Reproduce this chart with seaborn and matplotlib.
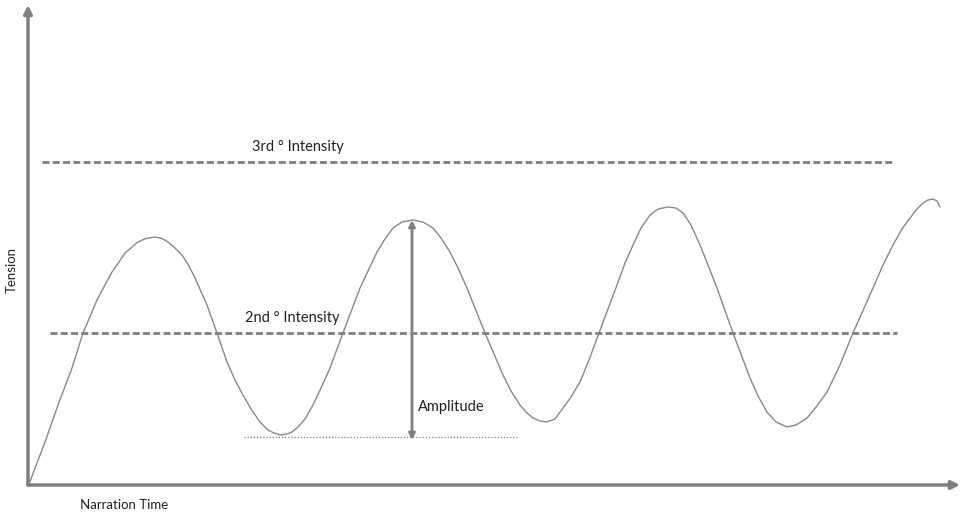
import matplotlib
matplotlib.use("Agg")
import matplotlib.pyplot as plt
import pandas as pd
import seaborn as sns

# narration time vs tension (arbitrary units)
time = [1, 17, 30, 44, 55, 69, 78, 84, 91, 97, 104, 110, 118, 127, 134, 140,
        147, 154, 161, 167, 179, 189, 199, 207, 215, 223, 232, 240, 246, 252,
        259, 264, 269, 277, 285, 293, 302, 315, 332, 341, 349, 357, 365, 374,
        385, 395, 405, 413, 422, 430, 439, 457, 475, 483, 492, 498, 505, 512,
        519, 527, 535, 543, 552, 561, 571, 589, 597, 605, 613, 622, 630, 640,
        648, 655, 663, 672, 680, 689, 705, 722, 730, 739, 748, 759, 768, 779,
        789, 799, 812, 825, 845, 855, 865, 874, 882, 889, 895, 900, 905, 909,
        912]
tension = [1, 43, 80, 117, 152, 185, 202, 213, 223, 232, 238, 243, 246.5, 248,
           246.5, 243, 237, 230, 219, 207, 180, 152, 123, 105, 90, 76, 63, 55,
           52, 50, 51, 53, 57, 66, 80, 97, 117, 152, 197, 216, 233, 246, 257,
           263, 265, 263, 257, 247, 233, 217, 197, 152, 110, 94, 80, 73, 67,
           64, 63, 66, 77, 88, 103, 125, 152, 200, 222, 240, 257, 270, 276,
           278, 277, 272, 260, 240, 220, 197, 152, 107, 89, 73, 63, 58, 60,
           67, 79, 93, 120, 152, 197, 220, 240, 256, 267, 276, 282, 285, 286,
           284, 278]

level_names = ["2nd ° Intensity", "3rd ° Intensity"]
level_values = [152, 323]
level_start = [22, 14]
level_end = [869, 867]
label_start = [217, 224]

trough_level = 48
amp_time = 384
amp_top = 265
amp_bottom = 45

GREY = "#7f7f7f"

sns.set_theme(style="white")
plt.rcParams["font.family"] = ["Lato", "DejaVu Sans"]

fig = plt.figure(figsize=(9.63, 5.13), dpi=100)
ax = fig.add_axes([0, 0, 1, 1])
ax.set_xlim(-28, 935)
ax.set_ylim(-28, 485)
ax.axis("off")

df = pd.DataFrame({"time": time, "tension": tension})
sns.lineplot(data=df, x="time", y="tension", sort=False, color="#888888",
             linewidth=1.0, ax=ax)

# intensity levels
for name, val, x0, x1, lx in zip(level_names, level_values, level_start,
                                 level_end, label_start):
    ax.plot([x0, x1], [val, val], color=GREY, linewidth=2.0, dashes=(2.5, 1.2))
    ax.text(lx, val + 8, name, fontsize=10.5, color="#222222",
            ha="left", va="bottom")

# amplitude
ax.plot([216, 490], [trough_level, trough_level], color=GREY, linewidth=0.9,
        linestyle=(0, (1, 1.5)))
ax.annotate("", xy=(amp_time, amp_top), xytext=(amp_time, amp_bottom),
            arrowprops=dict(arrowstyle="<|-|>", color=GREY, lw=2,
                            mutation_scale=9, shrinkA=0, shrinkB=0))
ax.text(amp_time + 6, 78, "Amplitude", fontsize=10.5, color="#222222",
        ha="left", va="center")

# axes drawn as arrows
ax.annotate("", xy=(0, 480), xytext=(0, 0),
            arrowprops=dict(arrowstyle="-|>", color=GREY, lw=2.5,
                            mutation_scale=12, shrinkA=0, shrinkB=0))
ax.annotate("", xy=(932, 0), xytext=(0, 0),
            arrowprops=dict(arrowstyle="-|>", color=GREY, lw=2.5,
                            mutation_scale=12, shrinkA=0, shrinkB=0))

ax.text(-16, 215, "Tension", fontsize=9.5, rotation=90, color="#222222",
        ha="center", va="center")
ax.text(52, -20, "Narration Time", fontsize=9.5, color="#222222",
        ha="left", va="center")

fig.savefig("out.png", dpi=100)
plt.close(fig)
